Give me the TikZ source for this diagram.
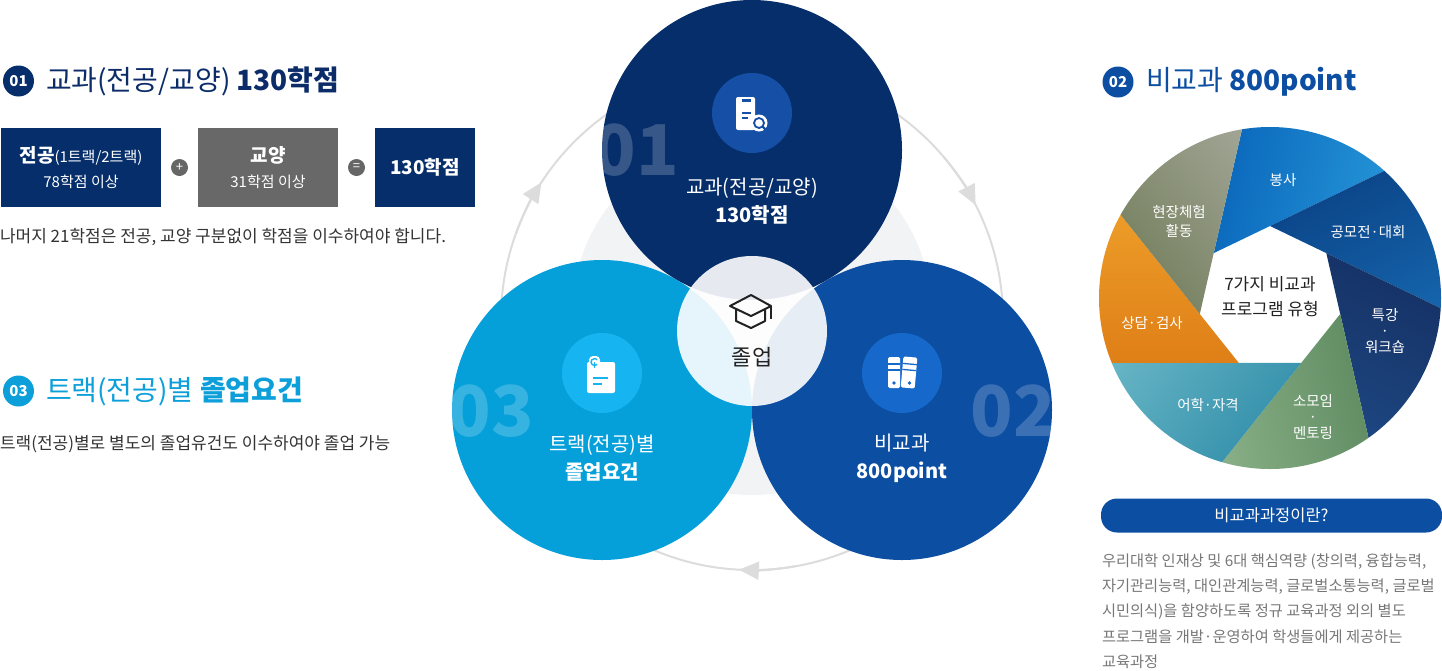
\documentclass[tikz,border=0pt]{standalone}
\usepackage{fontspec}
\setmainfont{Noto Sans CJK KR}
\usetikzlibrary{calc,arrows.meta,positioning}

\definecolor{navy}{HTML}{052E6B}
\definecolor{navytext}{HTML}{0B2C69}
\definecolor{bigyoblue}{HTML}{0B4EA2}
\definecolor{trackcyan}{HTML}{05A0DA}
\definecolor{headcyan}{HTML}{0D9FD9}
\definecolor{icontop}{HTML}{164FA6}
\definecolor{iconright}{HTML}{1668CB}
\definecolor{iconleft}{HTML}{16B5F1}
\definecolor{boxgrey}{HTML}{686868}
\definecolor{opgrey}{HTML}{666666}
\definecolor{loopgrey}{HTML}{DCDCDC}
\definecolor{bggrey}{HTML}{F2F3F5}
\definecolor{textdark}{HTML}{222222}
\definecolor{bodygrey}{HTML}{333333}
\definecolor{paragrey}{HTML}{777777}
\definecolor{bongsaL}{HTML}{2A9FDD}
\definecolor{bongsaD}{HTML}{0A66BB}
\definecolor{gongmoL}{HTML}{1668B0}
\definecolor{gongmoD}{HTML}{0A3F82}
\definecolor{teukL}{HTML}{1F4A86}
\definecolor{teukD}{HTML}{142F62}
\definecolor{somoL}{HTML}{8FB58D}
\definecolor{somoD}{HTML}{5E8A60}
\definecolor{eohakL}{HTML}{69B6C6}
\definecolor{eohakD}{HTML}{2B8AA6}
\definecolor{sangL}{HTML}{F0A52E}
\definecolor{sangD}{HTML}{DF7F17}
\definecolor{hyeonL}{HTML}{A3A697}
\definecolor{hyeonD}{HTML}{6F7B57}

\newcommand{\headbold}{\bfseries\fontsize{28}{28}\selectfont}

\begin{document}
\begin{tikzpicture}
[x=1pt,y=-1pt,
every node/.style={inner sep=0pt,outer sep=0pt},
badge/.style={circle,minimum size=31pt,text=white,font=\bfseries\fontsize{15}{15}\selectfont},
heading/.style={anchor=west,font=\fontsize{28}{28}\selectfont},
infobox/.style={minimum height=79pt,text=white,align=center,font=\fontsize{15}{25}\selectfont},
opcircle/.style={circle,fill=opgrey,minimum size=17pt,text=white,font=\fontsize{13}{13}\selectfont},
body/.style={anchor=west,text=bodygrey,font=\fontsize{17}{17}\selectfont},
maincircle/.style={circle,minimum size=300pt},
iconcircle/.style={circle,minimum size=80pt},
bignum/.style={text=white,opacity=.2,font=\bfseries\fontsize{70}{70}\selectfont},
circtext/.style={text=white,align=center,font=\fontsize{20}{28}\selectfont},
loopline/.style={draw=loopgrey,line width=2pt},
looptip/.style={loopline,-{Triangle[length=20pt,width=18pt]}},
capline/.style={draw=textdark,line width=2pt,line join=round},
bladetext/.style={text=white,align=center,font=\fontsize{14.5}{16}\selectfont},
para/.style={anchor=west,text=paragrey,font=\fontsize{15.3}{15.3}\selectfont}]
\useasboundingbox (0,0) rectangle (1442,670);

% 01 heading and credit boxes
\node[badge,fill=navy] (badge1) at (18.5,81) {01};
\node[heading,text=navytext] (head1) at (46,81) {교과(전공/교양) {\headbold 130학점}};
\node[infobox,minimum width=160pt,fill=navy] (major) at (81,167.5)
  {{\bfseries\fontsize{19}{19}\selectfont 전공}{\fontsize{15}{15}\selectfont (1트랙/2트랙)}\\78학점 이상};
\node[opcircle,right=10pt of major] (plus) {+};
\node[infobox,minimum width=140pt,fill=boxgrey,right=10pt of plus] (liberal)
  {{\bfseries\fontsize{19}{19}\selectfont 교양}\\31학점 이상};
\node[opcircle,right=10pt of liberal] (equal) {=};
\node[infobox,minimum width=100pt,fill=navy,right=10pt of equal] (total)
  {\bfseries\fontsize{19}{19}\selectfont 130학점};
\node[body] (note1) at (0,237) {나머지 21학점은 전공, 교양 구분없이 학점을 이수하여야 합니다.};

% 03 heading
\node[badge,fill=headcyan] (badge3) at (18.5,391) {03};
\node[heading,text=headcyan] (head3) at (46,391) {트랙(전공)별 {\headbold 졸업요건}};
\node[body] (note3) at (0,444) {트랙(전공)별로 별도의 졸업유건도 이수하여야 졸업 가능};

% cycle of three circles
\coordinate (loopc) at (752,319);
\draw[loopline] (loopc) circle[radius=251];
\draw[looptip] ($(loopc)+(200:251)$) arc[start angle=200,end angle=213,radius=251];
\draw[looptip] ($(loopc)+(320:251)$) arc[start angle=320,end angle=333,radius=251];
\draw[looptip] ($(loopc)+(80:251)$) arc[start angle=80,end angle=93,radius=251];
\fill[bggrey] (752,315) circle[radius=180];

\node[maincircle,fill=bigyoblue] (bigyo) at (902,410) {};
\node[maincircle,fill=trackcyan] (track) at (602,410) {};
\node[maincircle,fill=navy] (kyogwa) at (752,150) {};
\node[bignum] (num1) at (636,150) {01};
\node[bignum] (num2) at (1013,411) {02};
\node[bignum] (num3) at (491,411) {03};

\node[iconcircle,fill=icontop] (kyogwaicon) at (752,113) {};
\begin{scope}[shift={(kyogwaicon.center)}]
\fill[white,rounded corners=2pt] (-16,-16) rectangle (3,17);
\fill[icontop] (-10,-14) rectangle (-1,-11);
\draw[icontop,line width=1.6pt] (-10,0) -- (-1,0);
\draw[icontop,line width=1.6pt] (-10,5) -- (-4,5);
\fill[white] (7,10) circle[radius=8.5];
\draw[icontop,line width=1.8pt] (7,10) circle[radius=5];
\draw[icontop,line width=2.2pt,line cap=round] (10.5,13.5) -- (14,17);
\end{scope}

\node[iconcircle,fill=iconright] (bigyoicon) at (902,373) {};
\begin{scope}[shift={(bigyoicon.center)}]
\fill[white,rounded corners=1.5pt] (-14,-16) rectangle (-2,15);
\fill[white,rounded corners=1.5pt,rotate around={-5:(7,0)}] (0,-16) rectangle (14,15);
\draw[iconright,line width=1.3pt] (-14,-9) -- (-2,-9);
\draw[iconright,line width=1.3pt] (-14,-3) -- (-2,-3);
\draw[iconright,line width=1.3pt,rotate around={-5:(7,0)}] (0,-9) -- (14,-9);
\draw[iconright,line width=1.3pt,rotate around={-5:(7,0)}] (0,-3) -- (14,-3);
\fill[iconright] (-8,10) circle[radius=1.8];
\fill[iconright] (7.5,10) circle[radius=1.8];
\end{scope}

\node[iconcircle,fill=iconleft] (trackicon) at (602,373) {};
\begin{scope}[shift={(trackicon.center)}]
\fill[white,rounded corners=2pt] (-15,-11) rectangle (13,20);
\fill[white,rounded corners=4pt] (-13,-17) rectangle (-2,-3);
\draw[iconleft,line width=1.4pt] ($(-7.5,-11)+(40:3.5)$) arc[start angle=40,end angle=320,radius=3.5];
\draw[iconleft,line width=1.4pt] (-7.5,-11) -- (-7.5,-5);
\draw[iconleft,line width=1.6pt] (-9,5) -- (6,5);
\draw[iconleft,line width=1.6pt] (-9,11) -- (0,11);
\end{scope}

\node[circtext] (kyogwatext) at (752,201) {교과(전공/교양)\\\textbf{130학점}};
\node[circtext] (bigyotext) at (902,458) {비교과\\\textbf{800point}};
\node[circtext] (tracktext) at (602,458) {트랙(전공)별\\\textbf{졸업요건}};

\node[circle,minimum size=150pt,fill=white,fill opacity=.9] (jolup) at (752,331) {};
\begin{scope}[shift={(751,306)}]
\draw[capline] (0,-11) -- (20,0) -- (0,10) -- (-21,0) -- cycle;
\draw[capline] (-15,3) -- (-15,15) -- (0,22) -- (14,15) -- (14,3);
\draw[capline] (20,0) -- (20,13);
\end{scope}
\node[text=textdark,font=\fontsize{22}{22}\selectfont] (joluplabel) at (752,357) {졸업};

% 02 heading and seven program types
\node[badge,fill=bigyoblue] (badge2) at (1118,82) {02};
\node[heading,text=bigyoblue] (head2) at (1146,82) {비교과 {\headbold 800point}};

\node[circle,minimum size=342pt] (aperture) at (1270,298) {};
\foreach \k in {0,...,6}
  \coordinate (v\k) at ($(aperture.center)+({-90-\k*360/7}:72)$);
\foreach \k in {0,...,6}{
  \pgfmathtruncatemacro{\j}{mod(\k+1,7)}
  \coordinate (f\k) at ($(v\k)!-3!(v\j)$);
}
\begin{scope}
\clip (aperture.center) circle[radius=171];
\foreach \k/\i/\lt/\dk in {1/0/bongsaL/bongsaD,0/6/gongmoL/gongmoD,6/5/teukL/teukD,
  5/4/somoL/somoD,4/3/eohakL/eohakD,3/2/sangL/sangD,2/1/hyeonL/hyeonD}{
  \pgfmathsetmacro{\ang}{360/7*\k-154.3}
  \shade[top color=\lt,bottom color=\dk,shading angle=\ang] (v\k) -- (f\k) -- (f\i) -- cycle;
}
\end{scope}

\node[bladetext] (bongsa) at (1283,180) {봉사};
\node[bladetext] (gongmo) at (1368,232) {공모전·대회};
\node[bladetext] (teukgang) at (1385,331) {특강\\·\\워크숍};
\node[bladetext] (somoim) at (1313,417) {소모임\\·\\멘토링};
\node[bladetext] (eohak) at (1208,405) {어학·자격};
\node[bladetext] (sangdam) at (1152,323) {상담·검사};
\node[bladetext,font=\fontsize{14.5}{19}\selectfont] (hyeonjang) at (1179,221) {현장체험\\활동};
\node[align=center,text=textdark,font=\fontsize{17}{25}\selectfont] (seven) at (1270,297) {7가지 비교과\\프로그램 유형};

\node[rounded corners=16pt,fill=bigyoblue,minimum width=341pt,minimum height=34pt,
  text=white,font=\fontsize{16.5}{16.5}\selectfont] (whatis) at (1271.5,515.5) {비교과과정이란?};
\foreach \line [count=\n from 0] in {{우리대학 인재상 및 6대 핵심역량 (창의력, 융합능력,},
  {자기관리능력, 대인관계능력, 글로벌소통능력, 글로벌},
  {시민의식)을 함양하도록 정규 교육과정 외의 별도},
  {프로그램을 개발·운영하여 학생들에게 제공하는},
  {교육과정}}
  \node[para] (para\n) at (1102,562+25*\n) {\line};
\end{tikzpicture}
\end{document}
